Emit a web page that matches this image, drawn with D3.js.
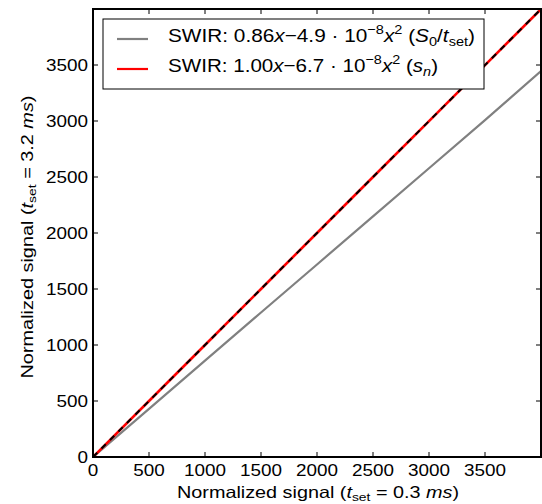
<!DOCTYPE html>
<html><head><meta charset="utf-8">
<script src="https://cdn.jsdelivr.net/npm/d3@7"></script>
<style>body{margin:0;background:#fff}text{font-family:"Liberation Sans",Arial,sans-serif;fill:#000}</style>
</head><body><svg id="c" width="542" height="504"></svg>
<script>
const xTicks=[0,500,1000,1500,2000,2500,3000,3500];
const yTicks=[0,500,1000,1500,2000,2500,3000,3500];
const xData=[0,500,1000,1500,2000,2500,3000,3500,4000];
const grayY=[0,430,861,1290,1719,2149,2578,3008,3445];
const redY=[0,500,1000,1500,2000,2500,2999,3499,3999];
const legendLabels=[
 [{t:"SWIR: 0.86"},{t:"x",i:1},{t:"−4.9 · 10"},{t:"−8",sup:1},{t:"x",i:1},{t:"2",sup:1},{t:" ("},{t:"S",i:1},{t:"0",sub:1},{t:"/"},{t:"t",i:1},{t:"set",sub:1},{t:")"}],
 [{t:"SWIR: 1.00"},{t:"x",i:1},{t:"−6.7 · 10"},{t:"−8",sup:1},{t:"x",i:1},{t:"2",sup:1},{t:" ("},{t:"s",i:1},{t:"n",sub:1,i:1},{t:")"}]
];
const svg=d3.select("#c");
const L=93,T=9,W=448,H=448;
const x=d3.scaleLinear().domain([0,4000]).range([L,L+W]);
const y=d3.scaleLinear().domain([0,4000]).range([T+H,T]);
const K=1.18;
function stretch(t,len){
  const n=t.node().getComputedTextLength();
  t.attr("textLength",len||n*K).attr("lengthAdjust","spacingAndGlyphs");
}
function rich(sel,segs,fs){
  let shift=0;
  segs.forEach(s=>{
    const ts=sel.append("tspan").text(s.t);
    if(s.i) ts.style("font-style","italic");
    let target=0;
    if(s.sup){ts.style("font-size",(fs*0.7)+"px");target=-fs*0.4;}
    else if(s.sub){ts.style("font-size",(fs*0.7)+"px");target=fs*0.2;}
    if(target!==shift){ts.attr("dy",target-shift);shift=target;}
  });
}
svg.append("clipPath").attr("id","clip").append("rect").attr("x",L).attr("y",T).attr("width",W).attr("height",H);
const line=d3.line().x((d,i)=>x(xData[i])).y(d=>y(d));
const pl=svg.append("g").attr("clip-path","url(#clip)");
pl.append("path").datum(grayY).attr("d",line).attr("fill","none").attr("stroke","#808080").attr("stroke-width",2.2);
pl.append("path").datum(redY).attr("d",line).attr("fill","none").attr("stroke","#ff0000").attr("stroke-width",2.6);
pl.append("path").datum(redY).attr("d",line).attr("fill","none").attr("stroke","#000").attr("stroke-width",2).attr("stroke-dasharray","6,6");
const tl=5;
xTicks.forEach(v=>{
  svg.append("line").attr("x1",x(v)).attr("x2",x(v)).attr("y1",T+H).attr("y2",T+H-tl).attr("stroke","#000");
  svg.append("line").attr("x1",x(v)).attr("x2",x(v)).attr("y1",T).attr("y2",T+tl).attr("stroke","#000");
  const t=svg.append("text").attr("x",x(v)).attr("y",476).attr("text-anchor","middle").style("font-size","16px").text(v);
  stretch(t);
});
yTicks.forEach(v=>{
  svg.append("line").attr("x1",L).attr("x2",L+tl).attr("y1",y(v)).attr("y2",y(v)).attr("stroke","#000");
  svg.append("line").attr("x1",L+W).attr("x2",L+W-tl).attr("y1",y(v)).attr("y2",y(v)).attr("stroke","#000");
  const t=svg.append("text").attr("x",L-5).attr("y",y(v)+6).attr("text-anchor","end").style("font-size","16px").text(v);
  stretch(t);
});
svg.append("rect").attr("x",L).attr("y",T).attr("width",W).attr("height",H).attr("fill","none").attr("stroke","#000").attr("stroke-width",2);
const lg=svg.append("g");
lg.append("rect").attr("x",103).attr("y",19).attr("width",381).attr("height",70).attr("fill","#fff").attr("stroke","#000").attr("stroke-width",1);
const lc=["#808080","#ff0000"];
const lw=[307,270];
legendLabels.forEach((segs,i)=>{
  const yy=39+i*30;
  lg.append("line").attr("x1",117).attr("x2",148).attr("y1",yy).attr("y2",yy).attr("stroke",lc[i]).attr("stroke-width",2.2);
  const t=lg.append("text").attr("x",168).attr("y",yy+3).style("font-size","19px");
  rich(t,segs,19);
  stretch(t,lw[i]);
});
const xl=svg.append("text").attr("x",318).attr("y",498).attr("text-anchor","middle").style("font-size","16.5px");
rich(xl,[{t:"Normalized signal ("},{t:"t",i:1},{t:"set",sub:1},{t:" = 0.3 "},{t:"ms",i:1},{t:")"}],16.5);
stretch(xl,282);
const yl=svg.append("text").attr("transform","translate(33,237) rotate(-90)").attr("text-anchor","middle").style("font-size","16.5px");
rich(yl,[{t:"Normalized signal ("},{t:"t",i:1},{t:"set",sub:1},{t:" = 3.2 "},{t:"ms",i:1},{t:")"}],16.5);
stretch(yl,283);
</script></body></html>
